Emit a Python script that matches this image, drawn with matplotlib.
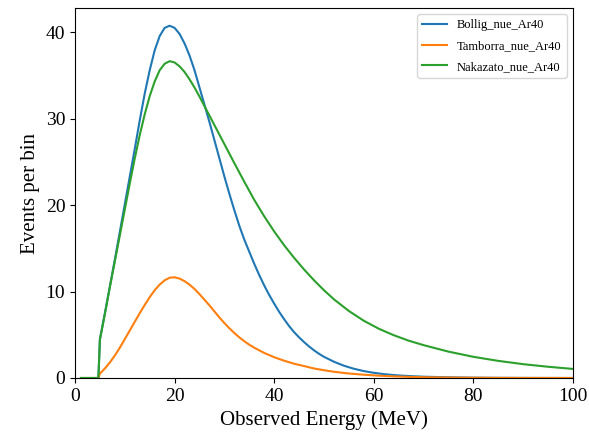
import matplotlib
matplotlib.use("Agg")
import matplotlib.pyplot as plt

plt.rcParams['font.family'] = ['Liberation Serif', 'DejaVu Serif']

energy_bollig = [1.2, 4.7, 5, 6, 7, 8, 9, 10, 11, 12, 13, 14, 15, 16, 17, 18, 19, 20,
                 21, 22, 23, 24, 25, 26, 27, 28, 29, 30, 31, 32, 33, 34, 35, 36, 37,
                 38, 39, 40, 41, 42, 43, 44, 45, 46, 47, 48, 49, 50, 52, 54, 56, 58,
                 60, 62, 64, 66, 68, 70, 75, 80, 85, 90, 95, 100]
bollig = [0, 0, 4.5, 7.5, 10.6, 13.7, 16.9, 20.1, 23.3, 26.5, 29.8, 32.9, 35.6, 37.9,
          39.55, 40.5, 40.75, 40.5, 39.8, 38.7, 37.3, 35.6, 33.6, 31.6, 29.6, 27.5,
          25.4, 23.3, 21.3, 19.4, 17.6, 16.0, 14.6, 13.2, 11.9, 10.7, 9.6, 8.6, 7.65,
          6.8, 6.0, 5.3, 4.7, 4.15, 3.65, 3.2, 2.8, 2.45, 1.88, 1.42, 1.07, 0.8, 0.6,
          0.45, 0.34, 0.26, 0.2, 0.15, 0.08, 0.04, 0.02, 0.01, 0.005, 0.003]

energy_tamborra = [1.2, 4.7, 5, 6, 7, 8, 9, 10, 11, 12, 13, 14, 15, 16, 17, 18, 19, 20,
                   21, 22, 23, 24, 25, 26, 27, 28, 29, 30, 31, 32, 33, 34, 35, 36, 38,
                   40, 42, 44, 46, 48, 50, 52, 55, 58, 61, 64, 67, 70, 75, 80, 85, 90,
                   95, 100]
tamborra = [0, 0, 0.5, 1.1, 1.8, 2.6, 3.5, 4.5, 5.5, 6.5, 7.5, 8.45, 9.35, 10.15,
            10.8, 11.3, 11.6, 11.65, 11.5, 11.2, 10.8, 10.3, 9.7, 9.05, 8.4, 7.7, 7.0,
            6.35, 5.75, 5.2, 4.7, 4.25, 3.85, 3.5, 2.9, 2.4, 2.0, 1.65, 1.38, 1.1,
            0.9, 0.72, 0.52, 0.38, 0.27, 0.19, 0.13, 0.09, 0.05, 0.03, 0.015, 0.008,
            0.004, 0.002]

energy_nakazato = [1.2, 4.7, 5, 6, 7, 8, 9, 10, 11, 12, 13, 14, 15, 16, 17, 18, 19, 20,
                   21, 22, 23, 24, 25, 26, 27, 28, 29, 30, 31, 32, 34, 36, 38, 40, 42,
                   44, 46, 48, 50, 52, 55, 58, 61, 64, 67, 70, 75, 80, 85, 90, 95, 100]
nakazato = [0, 0, 4.4, 7.4, 10.5, 13.5, 16.5, 19.5, 22.5, 25.4, 28.1, 30.5, 32.6,
            34.3, 35.6, 36.35, 36.65, 36.5, 36.05, 35.4, 34.55, 33.6, 32.55, 31.45,
            30.35, 29.25, 28.15, 27.05, 25.95, 24.85, 22.7, 20.6, 18.7, 16.95, 15.35,
            13.9, 12.55, 11.3, 10.15, 9.1, 7.75, 6.62, 5.7, 4.95, 4.32, 3.8, 3.05,
            2.45, 1.98, 1.6, 1.3, 1.05]

labels = ["Bollig_nue_Ar40", "Tamborra_nue_Ar40", "Nakazato_nue_Ar40"]

fig = plt.figure(figsize=(5.89, 4.33), dpi=100)
ax = fig.add_axes([75/589, 1-378/433, (573-75)/589, (378-8)/433])
ax.plot(energy_bollig, bollig, color="#1f77b4", lw=1.5, label=labels[0])
ax.plot(energy_tamborra, tamborra, color="#ff7f0e", lw=1.5, label=labels[1])
ax.plot(energy_nakazato, nakazato, color="#2ca02c", lw=1.5, label=labels[2])
ax.set_xlim(0, 100)
ax.set_ylim(0, 42.8)
ax.set_xticks([0, 20, 40, 60, 80, 100])
ax.set_yticks([0, 10, 20, 30, 40])
ax.tick_params(labelsize=14)
ax.set_xlabel("Observed Energy (MeV)", fontsize=15)
ax.set_ylabel("Events per bin", fontsize=15)
ax.legend(loc="upper right", fontsize=9, labelspacing=0.7)
fig.savefig("out.png", dpi=100)
